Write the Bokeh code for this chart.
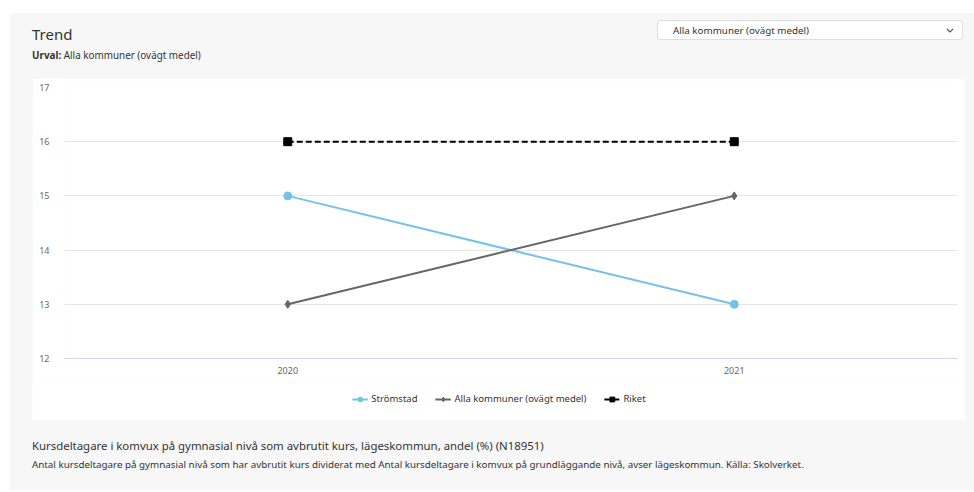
from bokeh.plotting import figure
from bokeh.models import (Div, FixedTicker, Range1d, Legend, LegendItem)
from bokeh.layouts import column, row
from bokeh.embed import file_html
from bokeh.resources import INLINE

# ---- data ----
years = [2020, 2021]
stromstad = [15, 13]
alla = [13, 15]
riket = [16, 16]
y_ticks = [12, 13, 14, 15, 16, 17]
series_names = ["Strömstad", "Alla kommuner (ovägt medel)", "Riket"]
title_text = "Trend"
urval_text = "Alla kommuner (ovägt medel)"
dropdown_text = "Alla kommuner (ovägt medel)"
footer_title = "Kursdeltagare i komvux på gymnasial nivå som avbrutit kurs, lägeskommun, andel (%) (N18951)"
footer_desc = ("Antal kursdeltagare på gymnasial nivå som har avbrutit kurs dividerat med Antal "
               "kursdeltagare i komvux på grundläggande nivå, avser lägeskommun. Källa: Skolverket.")

FONT = "Noto Sans"
BG = "#f7f7f7"
W = 964

header = Div(
    width=W, height=65, margin=0,
    styles={"background-color": BG},
    text=f"""
<div style="position:relative;width:{W}px;height:65px;font-family:'{FONT}';">
  <div style="position:absolute;left:22px;top:11px;font-size:15px;color:#333;white-space:nowrap;">{title_text}</div>
  <div style="position:absolute;left:22px;top:35px;font-size:9.9px;color:#333;white-space:nowrap;"><b>Urval:</b> {urval_text}</div>
  <div style="position:absolute;left:647px;top:7px;width:306px;height:20px;background:#fff;border:1px solid #ddd;border-radius:3px;">
    <div style="position:absolute;left:15px;top:3px;font-size:9.8px;color:#333;white-space:nowrap;">{dropdown_text}</div>
    <svg style="position:absolute;right:8px;top:7px;" width="8" height="6"><polyline points="1,1 4,4 7,1" fill="none" stroke="#555" stroke-width="1.2"/></svg>
  </div>
</div>""")

p = figure(width=933, height=304, output_backend="svg", toolbar_location=None,
           x_range=Range1d(years[0] - 0.5, years[-1] + 0.5),
           y_range=Range1d(y_ticks[0], y_ticks[-1]),
           min_border_left=32, min_border_right=8, min_border_top=9, min_border_bottom=24,
           background_fill_color="white", border_fill_color="white",
           outline_line_color=None, margin=0)

p.xaxis.ticker = FixedTicker(ticks=years)
p.yaxis.ticker = FixedTicker(ticks=y_ticks)
p.xgrid.grid_line_color = None
p.ygrid.grid_line_color = "#e6e6e6"
p.yaxis.axis_line_color = None
p.yaxis.major_tick_line_color = None
p.yaxis.minor_tick_line_color = None
p.yaxis.major_label_standoff = 9
p.xaxis.axis_line_color = "#ccd6eb"
p.xaxis.major_tick_line_color = None
p.xaxis.minor_tick_line_color = None
p.xaxis.major_label_standoff = 2
for ax in (p.xaxis, p.yaxis):
    ax.major_label_text_font = FONT
    ax.major_label_text_font_size = "9px"
    ax.major_label_text_color = "#666666"

c_s, c_a, c_r = "#74c3e6", "#666666", "#000000"
styles = [
    dict(color=c_s, marker="circle", size=8, dash="solid"),
    dict(color=c_a, marker="diamond", size=8, dash="solid"),
    dict(color=c_r, marker="square", size=8, dash="6 3"),
]
series = [stromstad, alla, riket]

for vals, st in zip(series, styles):
    p.line(years, vals, line_color=st["color"], line_width=2, line_dash=st["dash"])
    p.scatter(years, vals, marker=st["marker"], size=st["size"],
              fill_color=st["color"], line_color=st["color"])

# legend strip (separate white panel below the chart); its renderers use the same
# series but lie outside this strip's ranges, so only the legend is visible
lg = figure(width=933, height=38, output_backend="svg", toolbar_location=None,
            x_range=Range1d(0, 1), y_range=Range1d(0, 1),
            x_axis_type=None, y_axis_type=None,
            min_border=0, background_fill_color="white", border_fill_color="white",
            outline_line_color=None, margin=0)
lg.xgrid.grid_line_color = None
lg.ygrid.grid_line_color = None
items = []
for name, vals, st in zip(series_names, series, styles):
    lr = lg.line(years, vals, line_color=st["color"], line_width=2, line_dash=st["dash"])
    sr = lg.scatter(years, vals, marker=st["marker"], size=st["size"],
                    fill_color=st["color"], line_color=st["color"])
    items.append(LegendItem(label=name, renderers=[lr, sr]))

legend = Legend(items=items, orientation="horizontal", location="top_center",
                label_text_font=FONT, label_text_font_size="9.5px", label_text_color="#333333",
                glyph_width=16, glyph_height=12, spacing=17, label_standoff=4,
                border_line_color=None, background_fill_alpha=0, padding=4, margin=10)
lg.add_layout(legend)

mid = row(Div(width=22, height=304, margin=0, styles={"background-color": BG}), p,
          spacing=0, margin=0)
leg_row = row(Div(width=22, height=38, margin=0, styles={"background-color": BG}), lg,
              spacing=0, margin=0)

footer = Div(
    width=W, height=70, margin=0,
    styles={"background-color": BG},
    text=f"""
<div style="position:relative;width:{W}px;height:70px;font-family:'{FONT}';">
  <div style="position:absolute;left:22px;top:18px;font-size:11.4px;color:#333;white-space:nowrap;">{footer_title}</div>
  <div style="position:absolute;left:22px;top:38px;font-size:9.8px;color:#333;white-space:nowrap;">{footer_desc}</div>
</div>""")

layout = column(header, mid, leg_row, footer, styles={"background-color": BG},
                margin=(13, 0, 0, 10), spacing=0)

open("out.html", "w").write(file_html(layout, INLINE))
